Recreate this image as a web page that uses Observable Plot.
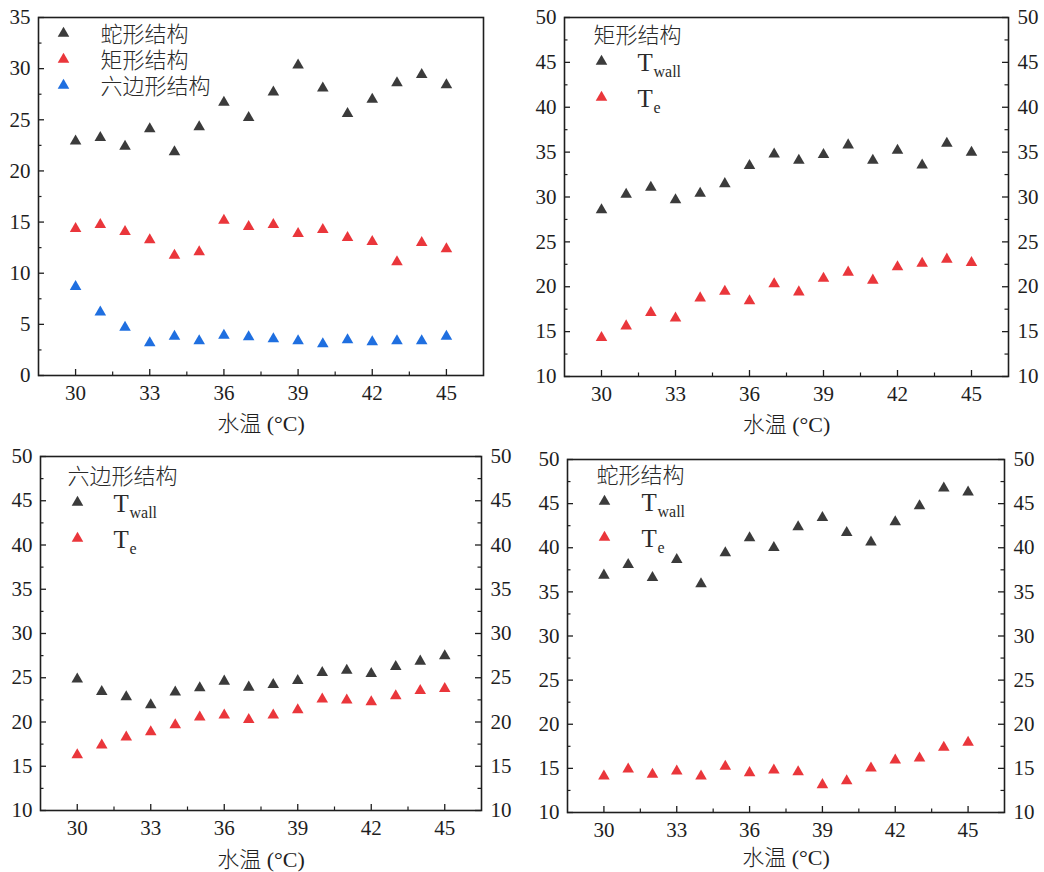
<!DOCTYPE html>
<html>
<head>
<meta charset="utf-8">
<script src="https://cdn.jsdelivr.net/npm/d3@7"></script>
<script src="https://cdn.jsdelivr.net/npm/@observablehq/plot@0.6"></script>
<style>
  html, body { margin: 0; padding: 0; background: #fff; }
  #wrap { position: relative; width: 1044px; height: 872px; background: #fff; }
  #wrap svg { position: absolute; background: transparent; }
</style>
</head>
<body>
<div id="wrap"></div>
<script>
// ---------- data ----------
const temps = [30, 31, 32, 33, 34, 35, 36, 37, 38, 39, 40, 41, 42, 43, 44, 45];
const xTicks = [30, 33, 36, 39, 42, 45];
const xMinor = [31.5, 34.5, 37.5, 40.5, 43.5];
const yTicksA = [0, 5, 10, 15, 20, 25, 30, 35];
const yMinorA = [2.5, 7.5, 12.5, 17.5, 22.5, 27.5, 32.5];
const yTicksB = [10, 15, 20, 25, 30, 35, 40, 45, 50];
const yMinorB = [12.5, 17.5, 22.5, 27.5, 32.5, 37.5, 42.5, 47.5];

const xLabel = "水温 (°C)";
const namesA = ["蛇形结构", "矩形结构", "六边形结构"];

// panel 1: Te of the three structures
const serpTe1 = [22.9, 23.25, 22.4, 24.1, 21.85, 24.3, 26.7, 25.2, 27.7, 30.35, 28.1, 25.6, 27.0, 28.6, 29.4, 28.4];
const rectTe1 = [14.36, 14.75, 14.07, 13.25, 11.75, 12.08, 15.17, 14.56, 14.75, 13.87, 14.26, 13.48, 13.09, 11.1, 12.99, 12.37];
const hexTe1  = [8.69, 6.19, 4.69, 3.19, 3.81, 3.39, 3.91, 3.78, 3.58, 3.39, 3.09, 3.48, 3.29, 3.39, 3.39, 3.81];

// panel 2: 矩形结构
const rectTwall = [28.57, 30.28, 31.06, 29.68, 30.39, 31.47, 33.48, 34.78, 34.07, 34.71, 35.79, 34.07, 35.19, 33.55, 35.97, 34.97];
const rectTe    = [14.32, 15.62, 17.1, 16.51, 18.74, 19.49, 18.41, 20.31, 19.41, 20.94, 21.61, 20.72, 22.2, 22.61, 23.06, 22.69];

// panel 3: 六边形结构
const hexTwall = [24.83, 23.43, 22.83, 21.93, 23.36, 23.85, 24.6, 23.92, 24.22, 24.68, 25.58, 25.84, 25.47, 26.26, 26.86, 27.46];
const hexTe    = [16.28, 17.38, 18.28, 18.88, 19.67, 20.54, 20.76, 20.27, 20.76, 21.36, 22.57, 22.46, 22.27, 22.94, 23.55, 23.77];

// panel 4: 蛇形结构
const serpTwall = [36.88, 38.09, 36.62, 38.66, 35.9, 39.41, 41.12, 40.02, 42.36, 43.42, 41.72, 40.62, 42.93, 44.74, 46.75, 46.3];
const serpTe    = [14.12, 14.91, 14.31, 14.69, 14.12, 15.22, 14.5, 14.8, 14.61, 13.14, 13.59, 15.03, 15.94, 16.16, 17.37, 17.94];

// ---------- styles ----------
const DARK = "#3b3b3b", RED = "#ea363b", BLUE = "#1f6fe0";
const FONT = "'Liberation Serif', 'Noto Sans CJK SC', serif";
const INK = "#1e1e1e";
const R = 4.3;

const toRows = (vals) => temps.map((t, i) => ({t, v: vals[i]}));

function panel(cfg) {
  const {left, top, w, h, m, yDomain, yTicks, yMinor, right, series, legend, labelDy} = cfg;
  const fw = w - m.left - m.right, fh = h - m.top - m.bottom;
  const marks = [];
  // ticks (inward)
  marks.push(Plot.ruleX(xTicks, {x: d => d, insetTop: fh - 6, stroke: INK, strokeWidth: 1.3}));
  marks.push(Plot.ruleX(xMinor, {x: d => d, insetTop: fh - 3.5, stroke: INK, strokeWidth: 1.2}));
  marks.push(Plot.ruleY(yTicks, {y: d => d, insetRight: fw - 6, stroke: INK, strokeWidth: 1.3}));
  marks.push(Plot.ruleY(yMinor, {y: d => d, insetRight: fw - 3.5, stroke: INK, strokeWidth: 1.2}));
  if (right) {
    marks.push(Plot.ruleY(yTicks, {y: d => d, insetLeft: fw - 6, stroke: INK, strokeWidth: 1.3}));
    marks.push(Plot.ruleY(yMinor, {y: d => d, insetLeft: fw - 3.5, stroke: INK, strokeWidth: 1.2}));
  }
  // tick labels
  marks.push(Plot.axisX({ticks: xTicks, tickSize: 0, tickPadding: 10, label: null, fill: INK, tickFormat: d => String(d)}));
  marks.push(Plot.axisY({anchor: "left", ticks: yTicks, tickSize: 0, tickPadding: 8, label: null, fill: INK, tickFormat: d => String(d)}));
  if (right) marks.push(Plot.axisY({anchor: "right", ticks: yTicks, tickSize: 0, tickPadding: 9, label: null, fill: INK, tickFormat: d => String(d)}));
  // axis title
  marks.push(Plot.text([xLabel], {text: d => d, frameAnchor: "bottom", lineAnchor: "middle", dy: labelDy, fontSize: 22, fontWeight: 300, fill: INK}));
  // data
  for (const s of series) {
    marks.push(Plot.dot(toRows(s.values), {x: "t", y: "v", symbol: "triangle", r: R, fill: s.color, stroke: "none"}));
  }
  // legend
  for (const it of legend) {
    if (it.kind === "dot") marks.push(Plot.dot([0], {frameAnchor: "top-left", dx: it.dx, dy: it.dy, symbol: "triangle", r: R, fill: it.color, stroke: "none"}));
    else marks.push(Plot.text([it.text], {text: d => d, frameAnchor: "top-left", lineAnchor: "middle", dx: it.dx, dy: it.dy, textAnchor: "start", fontSize: it.size, fontWeight: it.weight || "normal", fill: "#2a2a2a"}));
  }
  marks.push(Plot.frame({stroke: INK, strokeWidth: 1.6}));

  const svg = Plot.plot({
    width: w, height: h,
    marginLeft: m.left, marginRight: m.right, marginTop: m.top, marginBottom: m.bottom,
    x: {domain: [28.5, 46.5], axis: null},
    y: {domain: yDomain, axis: null},
    style: {fontFamily: FONT, fontSize: "21px", color: INK, background: "transparent", overflow: "visible"},
    marks
  });
  svg.style.left = left + "px";
  svg.style.top = top + "px";
  document.getElementById("wrap").appendChild(svg);
}

function tLegend(dxTitle, dyTitle, title, dxDot, dyWall, dyTe, dxT, dxSub) {
  return [
    {kind: "text", text: title, dx: dxTitle, dy: dyTitle, size: 22, weight: 300},
    {kind: "dot", color: DARK, dx: dxDot, dy: dyWall},
    {kind: "text", text: "T", dx: dxT, dy: dyWall + 1, size: 25},
    {kind: "text", text: "wall", dx: dxSub, dy: dyWall + 10, size: 16},
    {kind: "dot", color: RED, dx: dxDot, dy: dyTe},
    {kind: "text", text: "T", dx: dxT, dy: dyTe + 1, size: 25},
    {kind: "text", text: "e", dx: dxSub, dy: dyTe + 10, size: 16}
  ];
}

// panel 1
panel({
  left: 0, top: 0, w: 520, h: 440,
  m: {left: 38, right: 37, top: 17, bottom: 65},
  yDomain: [0, 35], yTicks: yTicksA, yMinor: yMinorA, right: false, labelDy: 48,
  series: [
    {values: serpTe1, color: DARK},
    {values: rectTe1, color: RED},
    {values: hexTe1, color: BLUE}
  ],
  legend: [
    {kind: "dot", color: DARK, dx: 25, dy: 16},
    {kind: "dot", color: RED, dx: 25, dy: 42},
    {kind: "dot", color: BLUE, dx: 25, dy: 68},
    {kind: "text", text: namesA[0], dx: 62, dy: 17, size: 22, weight: 300},
    {kind: "text", text: namesA[1], dx: 62, dy: 43, size: 22, weight: 300},
    {kind: "text", text: namesA[2], dx: 62, dy: 69, size: 22, weight: 300}
  ]
});

// panel 2
panel({
  left: 520, top: 0, w: 524, h: 440,
  m: {left: 44, right: 36, top: 17, bottom: 64},
  yDomain: [10, 50], yTicks: yTicksB, yMinor: yMinorB, right: true, labelDy: 48,
  series: [
    {values: rectTwall, color: DARK},
    {values: rectTe, color: RED}
  ],
  legend: tLegend(29, 18, "矩形结构", 37, 44, 80, 73, 89)
});

// panel 3
panel({
  left: 0, top: 440, w: 520, h: 432,
  m: {left: 40, right: 39, top: 16, bottom: 62},
  yDomain: [10, 50], yTicks: yTicksB, yMinor: yMinorB, right: true, labelDy: 49,
  series: [
    {values: hexTwall, color: DARK},
    {values: hexTe, color: RED}
  ],
  legend: tLegend(27, 20, "六边形结构", 37, 46, 82, 73, 89)
});

// panel 4
panel({
  left: 520, top: 440, w: 524, h: 432,
  m: {left: 47, right: 40, top: 19, bottom: 60},
  yDomain: [10, 50], yTicks: yTicksB, yMinor: yMinorB, right: true, labelDy: 45,
  series: [
    {values: serpTwall, color: DARK},
    {values: serpTe, color: RED}
  ],
  legend: tLegend(29, 16, "蛇形结构", 37, 42, 78, 74, 90)
});
</script>
</body>
</html>
